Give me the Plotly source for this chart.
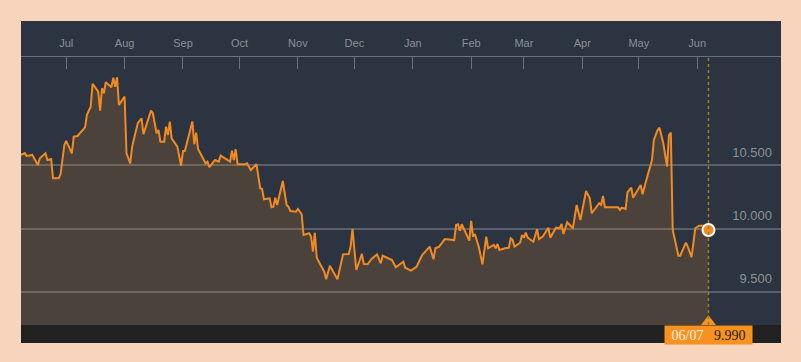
import plotly.graph_objects as go

# ---------------- data ----------------
dates = [
    "2018-06-07", "2018-06-09", "2018-06-10", "2018-06-13", "2018-06-16", "2018-06-17", "2018-06-20",
    "2018-06-21", "2018-06-23", "2018-06-24", "2018-06-27", "2018-06-28", "2018-06-30",
    "2018-07-01", "2018-07-04", "2018-07-05", "2018-07-07", "2018-07-11", "2018-07-12", "2018-07-14",
    "2018-07-15", "2018-07-18", "2018-07-19", "2018-07-20", "2018-07-21", "2018-07-22", "2018-07-25",
    "2018-07-26", "2018-07-27", "2018-07-28", "2018-07-29",
    "2018-08-01", "2018-08-02", "2018-08-04", "2018-08-05", "2018-08-08", "2018-08-10", "2018-08-11",
    "2018-08-15", "2018-08-16", "2018-08-18", "2018-08-19", "2018-08-20", "2018-08-22", "2018-08-23",
    "2018-08-24", "2018-08-25", "2018-08-26", "2018-08-29", "2018-08-31",
    "2018-09-01", "2018-09-02", "2018-09-06", "2018-09-07", "2018-09-08", "2018-09-09", "2018-09-13",
    "2018-09-14", "2018-09-15", "2018-09-18", "2018-09-20", "2018-09-21", "2018-09-26", "2018-09-27",
    "2018-09-28", "2018-09-29", "2018-09-30",
    "2018-10-04", "2018-10-05", "2018-10-07", "2018-10-10", "2018-10-12", "2018-10-13", "2018-10-14",
    "2018-10-17", "2018-10-18", "2018-10-19", "2018-10-20", "2018-10-21", "2018-10-24", "2018-10-26",
    "2018-10-27", "2018-10-28", "2018-10-31",
    "2018-11-01", "2018-11-02", "2018-11-03", "2018-11-04", "2018-11-07", "2018-11-08", "2018-11-09",
    "2018-11-10", "2018-11-11", "2018-11-14", "2018-11-15", "2018-11-16", "2018-11-18", "2018-11-22",
    "2018-11-25", "2018-11-28", "2018-11-29", "2018-11-30",
    "2018-12-02", "2018-12-05", "2018-12-06", "2018-12-08", "2018-12-10", "2018-12-13", "2018-12-15",
    "2018-12-16", "2018-12-21", "2018-12-23", "2018-12-27", "2018-12-28", "2018-12-31",
    "2019-01-03", "2019-01-06", "2019-01-10", "2019-01-12", "2019-01-13", "2019-01-15", "2019-01-18",
    "2019-01-20", "2019-01-23", "2019-01-24", "2019-01-25", "2019-01-26", "2019-01-27", "2019-01-31",
    "2019-02-01", "2019-02-02", "2019-02-03", "2019-02-05", "2019-02-07", "2019-02-09", "2019-02-10",
    "2019-02-13", "2019-02-14", "2019-02-15", "2019-02-16", "2019-02-19", "2019-02-21", "2019-02-22",
    "2019-02-23", "2019-02-24", "2019-02-27", "2019-02-28",
    "2019-03-01", "2019-03-02", "2019-03-03", "2019-03-06", "2019-03-08", "2019-03-09", "2019-03-11",
    "2019-03-14", "2019-03-15", "2019-03-18", "2019-03-20", "2019-03-21", "2019-03-22", "2019-03-24",
    "2019-03-27", "2019-03-29", "2019-03-31",
    "2019-04-03", "2019-04-05", "2019-04-06", "2019-04-10", "2019-04-11", "2019-04-12", "2019-04-13",
    "2019-04-20", "2019-04-21", "2019-04-22", "2019-04-24", "2019-04-25", "2019-04-27", "2019-04-28",
    "2019-05-02", "2019-05-03", "2019-05-05", "2019-05-07", "2019-05-08", "2019-05-09", "2019-05-11",
    "2019-05-12", "2019-05-14", "2019-05-16", "2019-05-17", "2019-05-18", "2019-05-19", "2019-05-20",
    "2019-05-22", "2019-05-23", "2019-05-26", "2019-05-27", "2019-05-29", "2019-05-31",
    "2019-06-02", "2019-06-05", "2019-06-07",
]

values = [
    10.583, 10.599, 10.575, 10.583, 10.504, 10.557, 10.596, 10.543, 10.551, 10.399, 10.399, 10.430, 10.662,
    10.694, 10.596, 10.728, 10.733, 10.802, 10.900, 10.965, 11.145, 11.084, 10.934, 11.111, 11.071, 11.158,
    11.119, 11.195, 11.123, 11.198, 10.979,
    11.044, 10.596, 10.517, 10.649, 10.834, 10.873, 10.747, 10.934, 10.913, 10.755, 10.781, 10.688, 10.688,
    10.807, 10.741, 10.847, 10.715, 10.649, 10.498,
    10.615, 10.615, 10.847, 10.668, 10.760, 10.631, 10.517, 10.530, 10.486, 10.543, 10.530, 10.578, 10.530,
    10.617, 10.543, 10.628, 10.510,
    10.510, 10.517, 10.464, 10.510, 10.320, 10.314, 10.232, 10.240, 10.169, 10.174, 10.245, 10.188, 10.377,
    10.188, 10.174, 10.140, 10.134,
    10.156, 10.134, 10.116, 9.950, 9.964, 9.937, 9.818, 9.968, 9.771, 9.687, 9.660, 9.600, 9.707, 9.600,
    9.797, 9.800, 9.858, 9.998,
    9.673, 9.800, 9.721, 9.718, 9.758, 9.797, 9.726, 9.786, 9.752, 9.695, 9.739, 9.691, 9.668,
    9.699, 9.792, 9.858, 9.758, 9.845, 9.858, 9.918, 9.916, 9.910, 10.029, 10.035, 9.984, 10.035, 9.905,
    10.061, 9.937, 9.956, 9.858, 9.718, 9.937, 9.845, 9.871, 9.845, 9.879, 9.831, 9.845, 9.850, 9.924,
    9.911, 9.858, 9.889, 9.950,
    9.929, 9.968, 9.929, 9.897, 9.995, 9.918, 9.937, 10.008, 9.929, 10.008, 10.003, 10.037, 9.958, 10.051,
    10.003, 10.188, 10.069,
    10.298, 10.240, 10.122, 10.201, 10.188, 10.259, 10.169, 10.169, 10.148, 10.166, 10.156, 10.288, 10.324,
    10.245,
    10.346, 10.272, 10.385, 10.478, 10.543, 10.702, 10.781, 10.799, 10.676, 10.491, 10.741, 10.760, 9.990,
    9.924, 9.786, 9.786, 9.889, 9.858, 9.774, 10.003,
    10.024, 10.024, 9.990,
]

y_ticks = [9.5, 10.0, 10.5]
x_end = "2019-07-15 12:00"
y_range = [9.238, 11.358]

# ---------------- styling / layout constants ----------------
W, H = 801, 362
PANEL = "#2b3440"
ORANGE = "#f28a22"
LABEL_ORANGE = "#f7911f"
GRID = "#59606a"
TEXT = "#8b9096"
# plot area (pixels)
PL, PR, PT, PB = 21, 781, 57, 325
PANEL_TOP, PANEL_BOT = 21, 343

fig = go.Figure()

# dotted outer frame around the dark panel (drawn on a full-figure helper subplot)
fig.add_trace(go.Scatter(
    x=[0, W, W, 0, 0, PL, PL, PR, PR, PL, 0],
    y=[0, 0, H, H, 0, PANEL_TOP, PANEL_BOT, PANEL_BOT, PANEL_TOP, PANEL_TOP, 0],
    xaxis="x2", yaxis="y2", mode="lines", line=dict(width=0),
    fill="toself", fillcolor="#ffffff",
    fillpattern=dict(shape=".", size=2, solidity=0.32, fgcolor="#e9833a",
                     bgcolor="#ffffff", fillmode="replace"),
    hoverinfo="skip", showlegend=False,
))

# main area line
fig.add_trace(go.Scatter(
    x=dates, y=values, mode="lines",
    line=dict(color=ORANGE, width=2),
    fill="tozeroy", fillcolor="rgba(240,140,40,0.16)",
    hoverinfo="skip", showlegend=False,
))

# last-point marker
fig.add_trace(go.Scatter(
    x=[dates[-1]], y=[values[-1]], mode="markers",
    marker=dict(size=12, color=ORANGE, line=dict(color="white", width=2)),
    cliponaxis=False, hoverinfo="skip", showlegend=False,
))

# pointer triangle above the value tag
fig.add_trace(go.Scatter(
    x=[dates[-1]], y=[y_range[0] + 0.026], mode="markers",
    marker=dict(symbol="triangle-up", size=13, color=LABEL_ORANGE, line=dict(width=0)),
    cliponaxis=False, hoverinfo="skip", showlegend=False,
))

shapes = [
    # bottom dark bar
    dict(type="rect", xref="paper", yref="paper",
         x0=PL / W, x1=PR / W, y0=1 - PANEL_BOT / H, y1=1 - PB / H,
         fillcolor="#212121", line=dict(width=0), layer="below"),
    # dotted cursor line at last date
    dict(type="line", xref="x", yref="y domain", x0=dates[-1], x1=dates[-1], y0=0, y1=1,
         line=dict(color="#a87c1e", width=1.5, dash="dot"), layer="above"),
]

last_label = dates[-1][5:7] + "/" + dates[-1][8:10]
annotations = [
    dict(xref="x", yref="paper", x=dates[-1], y=1 - PB / H, xanchor="center", yanchor="top",
         showarrow=False, width=87, height=18, bgcolor=LABEL_ORANGE, borderpad=0,
         text=f'<span style="color:#fff4e4">{last_label}</span>\u00a0\u00a0\u00a0'
              f'<span style="color:#1e1e1e">{values[-1]:.3f}</span>',
         font=dict(family="Liberation Serif, Times New Roman, serif", size=14)),
]

fig.update_layout(
    width=W, height=H,
    margin=dict(l=0, r=0, t=0, b=0),
    paper_bgcolor=PANEL, plot_bgcolor="rgba(0,0,0,0)",
    showlegend=False,
    shapes=shapes, annotations=annotations,
    xaxis=dict(
        domain=[PL / W, PR / W], anchor="y", side="top",
        type="date", range=[dates[0], x_end],
        tick0="2018-07-01", dtick="M1", tickformat="%b",
        ticks="inside", ticklen=12, tickwidth=1, tickcolor="#6b7178",
        showline=True, linecolor="#6b7178", linewidth=1,
        showgrid=False, zeroline=False, fixedrange=True,
        ticklabelstandoff=5,
        tickfont=dict(family="Liberation Sans, Arial, sans-serif", size=11, color=TEXT),
    ),
    yaxis=dict(
        domain=[1 - PB / H, 1 - PT / H], anchor="x", side="right",
        range=y_range, tickvals=y_ticks, tickformat=".3f",
        ticklabelposition="inside top", ticks="",
        ticklabelstandoff=6, ticklabelshift=-4,
        showgrid=True, gridcolor=GRID, gridwidth=1.5,
        zeroline=False, showline=False, fixedrange=True,
        tickfont=dict(family="Liberation Sans, Arial, sans-serif", size=13, color=TEXT),
    ),
    xaxis2=dict(domain=[0, 1], anchor="y2", range=[0, W], visible=False, fixedrange=True),
    yaxis2=dict(domain=[0, 1], anchor="x2", range=[H, 0], visible=False, fixedrange=True),
)

fig.write_html(
    "out.html",
    config={"displayModeBar": False},
    post_script="document.body.style.margin='0';document.body.style.overflow='hidden';",
)
